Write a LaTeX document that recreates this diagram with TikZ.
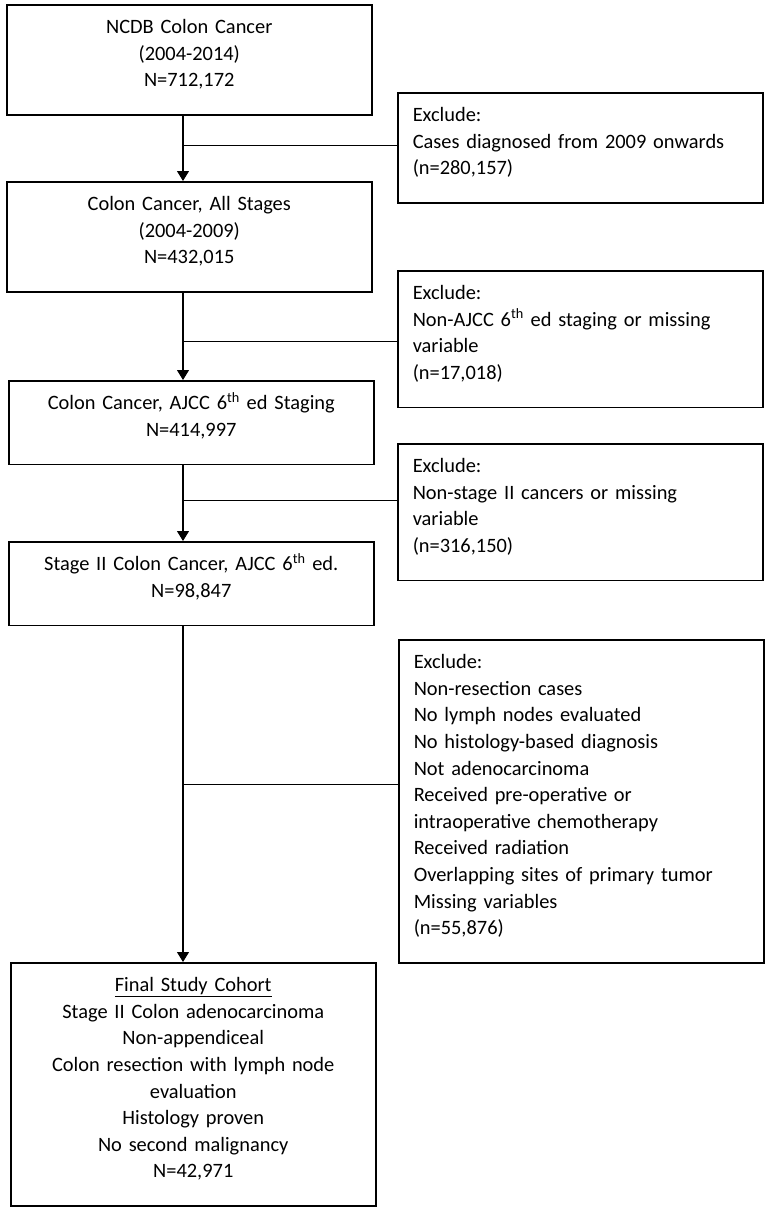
\documentclass[tikz,border=0pt]{standalone}
\usepackage{fontspec}
\setmainfont{Carlito}
\usetikzlibrary{arrows.meta,positioning}
\tikzset{%
	stagebox/.style   = {draw, rectangle, line width=1.5pt, anchor=north west, inner xsep=15pt, inner ysep=0pt, text width=335pt, align=center, text height=29pt, font=\fontsize{20.4}{26.6}\selectfont, execute at end node={\rule[-28pt]{0pt}{28pt}}},
	excludebox/.style = {stagebox, align=left},
	arrow/.style      = {line width=1.1pt, -{Triangle[width=12pt,length=10pt]}},
	branch/.style     = {line width=0.9pt},
}
\begin{document}
\begin{tikzpicture}[x=1pt,y=-1pt]
	\useasboundingbox (0,0) rectangle (768,1211);
	
	\node[stagebox] (ncdb) at (6,4) {NCDB Colon Cancer\\(2004-2014)\\N=712,172};
	\node[stagebox] (allstage) at (6,181) {Colon Cancer, All Stages\\(2004-2009)\\N=432,015};
	\node[stagebox] (ajcc) at (8,380) {Colon Cancer, AJCC 6\textsuperscript{th} ed Staging\\N=414,997};
	\node[stagebox] (stagetwo) at (8,541) {Stage II Colon Cancer, AJCC 6\textsuperscript{th} ed.\\N=98,847};
	\node[stagebox] (cohort) at (10,962) {\underline{Final Study Cohort}\\Stage II Colon adenocarcinoma\\Non-appendiceal\\Colon resection with lymph node\\evaluation\\Histology proven\\No second malignancy\\N=42,971};
	
	\node[excludebox] (excl1) at (397,92) {Exclude:\\Cases diagnosed from 2009 onwards\\(n=280,157)};
	\node[excludebox] (excl2) at (397,270) {Exclude:\\Non-AJCC 6\textsuperscript{th} ed staging or missing\\variable\\(n=17,018)};
	\node[excludebox] (excl3) at (397,443) {Exclude:\\Non-stage II cancers or missing\\variable\\(n=316,150)};
	\node[excludebox] (excl4) at (398,639) {Exclude:\\Non-resection cases\\No lymph nodes evaluated\\No histology-based diagnosis\\Not adenocarcinoma\\Received pre-operative or\\intraoperative chemotherapy\\Received radiation\\Overlapping sites of primary tumor\\Missing variables\\(n=55,876)};
	
	\coordinate (spine) at (183,0);
	\foreach \a/\b in {ncdb/allstage, allstage/ajcc, ajcc/stagetwo, stagetwo/cohort}
		\draw[arrow] (\a.south -| spine) -- (\b.north -| spine);
	
	\foreach \y/\e in {145/excl1, 341/excl2, 500/excl3, 784/excl4}{
		\coordinate (cut-\e) at (183,\y);
		\draw[branch] (cut-\e) -- (cut-\e -| \e.west);
	}
\end{tikzpicture}
\end{document}
